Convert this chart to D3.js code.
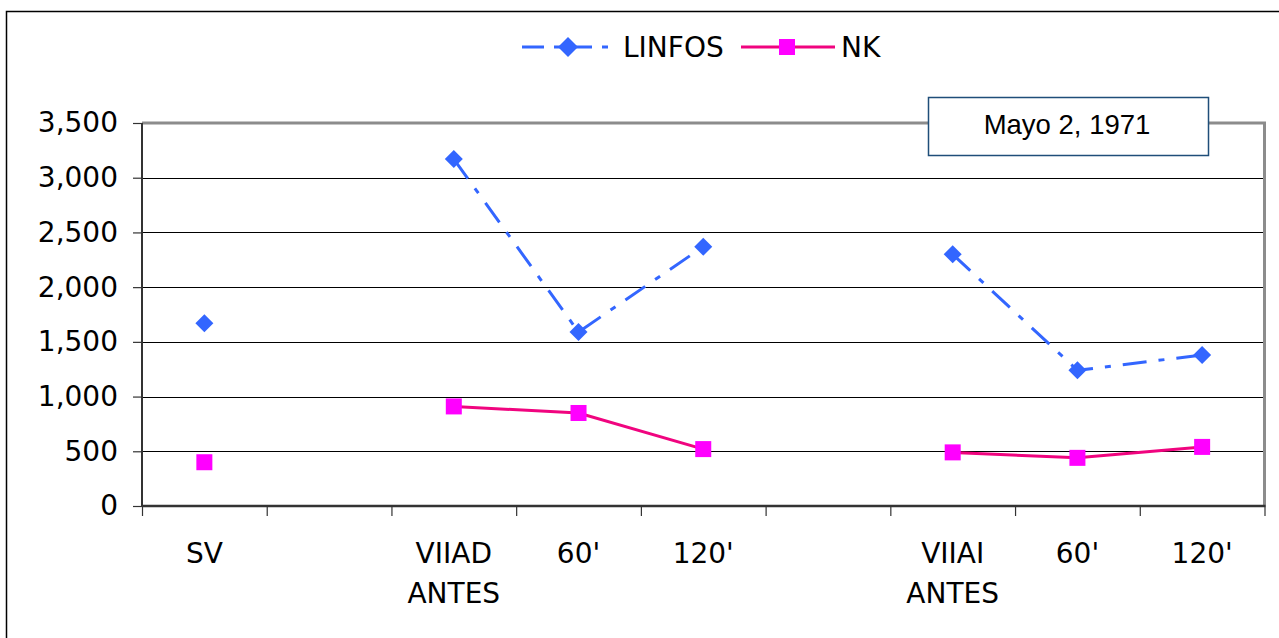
<!DOCTYPE html>
<html>
<head>
<meta charset="utf-8">
<script src="https://cdn.jsdelivr.net/npm/d3@7"></script>
<style>
  html, body { margin: 0; padding: 0; background: #fff; }
  svg { display: block; }
</style>
</head>
<body>
<svg id="chart" width="1279" height="638"></svg>
<script>
// ---- data ----
const categories = ["SV", "", "VIIAD\nANTES", "60'", "120'", "", "VIIAI\nANTES", "60'", "120'"];
const linfos = [1670, null, 3170, 1590, 2370, null, 2300, 1240, 1380];
const nk = [400, null, 910, 850, 520, null, 490, 440, 540];
const yTicks = [0, 500, 1000, 1500, 2000, 2500, 3000, 3500];
const seriesNames = ["LINFOS", "NK"];
const annotation = "Mayo 2, 1971";

// ---- layout ----
const W = 1279, H = 638;
const plot = { left: 142, right: 1264.5, top: 123, bottom: 506 };
const axisFont = "'DejaVu Sans', Verdana, sans-serif";
const blue = "#3366FF", pinkLine = "#F0047F", magenta = "#FF00FF";

const svg = d3.select("#chart");

// outer frame
svg.append("rect").attr("x", 6.5).attr("y", 11.5).attr("width", 1300).attr("height", 700)
  .attr("fill", "none").attr("stroke", "#000").attr("stroke-width", 1.5);

const idx = d3.range(categories.length);
const x = d3.scaleBand().domain(idx).range([plot.left, plot.right]).padding(0);
const xEdge = d3.scaleLinear().domain([0, categories.length]).range([plot.left, plot.right]);
const y = d3.scaleLinear().domain([0, 3500]).range([plot.bottom, plot.top]);

// gridlines
svg.append("g").selectAll("line").data(yTicks.filter(v => v > 0 && v < 3500)).join("line")
  .attr("x1", plot.left).attr("x2", plot.right)
  .attr("y1", d => Math.round(y(d)) + 0.5).attr("y2", d => Math.round(y(d)) + 0.5)
  .attr("stroke", "#000").attr("stroke-width", 1);

// plot area border (gray top and right)
svg.append("path")
  .attr("d", `M${plot.left},${y(3500)}H${plot.right}V${plot.bottom}`)
  .attr("fill", "none").attr("stroke", "#8c8c8c").attr("stroke-width", 3);

// y axis
const yAxis = svg.append("g").attr("transform", `translate(${plot.left},0)`)
  .call(d3.axisLeft(y).tickValues(yTicks).tickFormat(d3.format(",")).tickSize(9).tickPadding(15));
yAxis.select(".domain").attr("stroke", "#333").attr("stroke-width", 2)
  .attr("d", `M0,${plot.top}V${plot.bottom}`);
yAxis.selectAll(".tick line").attr("stroke", "#333").attr("stroke-width", 1.2);
yAxis.selectAll(".tick text").attr("font-family", axisFont).attr("font-size", 28).attr("fill", "#000");

// x axis (ticks at category edges)
const xAxis = svg.append("g").attr("transform", `translate(0,${plot.bottom})`)
  .call(d3.axisBottom(xEdge).tickValues(d3.range(categories.length + 1)).tickFormat("").tickSize(10));
xAxis.select(".domain").attr("stroke", "#333").attr("stroke-width", 2.5)
  .attr("d", `M${plot.left},0H${plot.right + 1}`);
xAxis.selectAll(".tick line").attr("stroke", "#333").attr("stroke-width", 1.2);

// category labels
const labels = svg.append("g");
idx.forEach(i => {
  const lines = categories[i].split("\n");
  const t = labels.append("text").attr("text-anchor", "middle")
    .attr("font-family", axisFont).attr("font-size", 28).attr("fill", "#000");
  lines.forEach((ln, k) => {
    t.append("tspan").attr("x", x(i) + x.bandwidth() / 2).attr("y", 563 + k * 40).text(ln);
  });
});

const cx = i => x(i) + x.bandwidth() / 2;

// lines
const line = d3.line().defined(d => d.v != null).x(d => cx(d.i)).y(d => y(d.v));
const linfosData = linfos.map((v, i) => ({ i, v }));
const nkData = nk.map((v, i) => ({ i, v }));

svg.append("path").datum(linfosData).attr("d", line)
  .attr("fill", "none").attr("stroke", blue).attr("stroke-width", 3)
  .attr("stroke-dasharray", "24,12,6,12");
svg.append("path").datum(nkData).attr("d", line)
  .attr("fill", "none").attr("stroke", pinkLine).attr("stroke-width", 3);

// markers
const diamond = (px, py, r) => `M${px},${py - r}L${px + r},${py}L${px},${py + r}L${px - r},${py}Z`;
svg.append("g").selectAll("path").data(linfosData.filter(d => d.v != null)).join("path")
  .attr("d", d => diamond(cx(d.i), y(d.v), 9)).attr("fill", blue);
svg.append("g").selectAll("rect").data(nkData.filter(d => d.v != null)).join("rect")
  .attr("x", d => cx(d.i) - 8).attr("y", d => y(d.v) - 8).attr("width", 16).attr("height", 16)
  .attr("fill", magenta);

// legend
const lg = svg.append("g");
const ly = 47;
lg.append("line").attr("x1", 522).attr("x2", 616).attr("y1", ly).attr("y2", ly)
  .attr("stroke", blue).attr("stroke-width", 3).attr("stroke-dasharray", "22,10,6,10");
lg.append("path").attr("d", diamond(568, ly, 10)).attr("fill", blue);
lg.append("text").attr("x", 623).attr("y", 57).attr("font-family", axisFont).attr("font-size", 28)
  .attr("fill", "#000").text(seriesNames[0]);
lg.append("line").attr("x1", 741).attr("x2", 835).attr("y1", ly).attr("y2", ly)
  .attr("stroke", pinkLine).attr("stroke-width", 3);
lg.append("rect").attr("x", 779).attr("y", ly - 8).attr("width", 16).attr("height", 16).attr("fill", magenta);
lg.append("text").attr("x", 841).attr("y", 57).attr("font-family", axisFont).attr("font-size", 28)
  .attr("fill", "#000").text(seriesNames[1]);

// annotation box
svg.append("rect").attr("x", 928.5).attr("y", 97.5).attr("width", 280).attr("height", 58)
  .attr("fill", "#fff").attr("stroke", "#1F4E79").attr("stroke-width", 1.5);
svg.append("text").attr("x", 1067).attr("y", 134).attr("text-anchor", "middle")
  .attr("font-family", "'Liberation Sans', Arial, sans-serif").attr("font-size", 27.5)
  .attr("fill", "#000").text(annotation);
</script>
</body>
</html>
